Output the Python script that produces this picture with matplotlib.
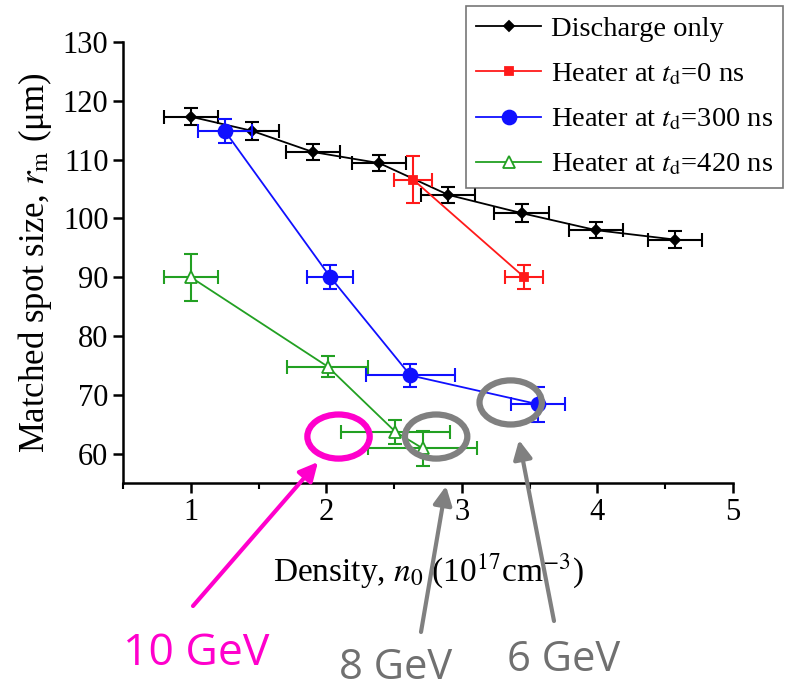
import matplotlib.pyplot as plt
from matplotlib.patches import Ellipse

plt.rcParams['font.family'] = ['Liberation Serif', 'DejaVu Serif']
plt.rcParams['mathtext.fontset'] = 'stix'

# discharge only
x_dis = [1.0, 1.45, 1.9, 2.39, 2.9, 3.44, 3.99, 4.57]
y_dis = [117.3, 114.9, 111.3, 109.4, 104.0, 100.9, 98.0, 96.4]
xe_dis = [0.2, 0.2, 0.2, 0.2, 0.2, 0.2, 0.2, 0.2]
ye_dis = [1.4, 1.5, 1.4, 1.4, 1.4, 1.5, 1.4, 1.5]

# heater at td=0 ns
x_h0 = [2.64, 3.46]
y_h0 = [106.6, 90.0]
xe_h0 = [0.14, 0.14]
ye_h0 = [4.0, 2.0]

# heater at td=300 ns
x_h300 = [1.25, 2.03, 2.62, 3.56]
y_h300 = [114.9, 90.0, 73.3, 68.4]
xe_h300 = [0.2, 0.17, 0.33, 0.2]
ye_h300 = [2.0, 2.0, 1.9, 3.0]

# heater at td=420 ns
x_h420 = [1.0, 2.01, 2.51, 2.71]
y_h420 = [90.0, 74.8, 63.7, 60.9]
xe_h420 = [0.2, 0.3, 0.4, 0.4]
ye_h420 = [4.0, 1.8, 2.0, 3.0]

# annotation circles (x, y) and labels
circ_x = [2.09, 2.81, 3.36]
circ_y = [62.9, 62.9, 68.7]
circ_col = ['#ff00cc', '#808080', '#808080']
gev_labels = ['10 GeV', '8 GeV', '6 GeV']

fig = plt.figure(figsize=(7.88, 6.92), dpi=100)
ax = fig.add_axes([123/788, 1-483/692, (733-123)/788, (483-42)/692])

series = [
    (x_dis, y_dis, xe_dis, ye_dis, 'black', 'D', 5.5, 'black', 'Discharge only'),
    (x_h0, y_h0, xe_h0, ye_h0, '#ff1a1a', 's', 6, '#ff1a1a', 'Heater at $t_\\mathrm{d}$=0 ns'),
    (x_h300, y_h300, xe_h300, ye_h300, '#1010ff', 'o', 10, '#1010ff', 'Heater at $t_\\mathrm{d}$=300 ns'),
    (x_h420, y_h420, xe_h420, ye_h420, '#22a022', '^', 9, 'white', 'Heater at $t_\\mathrm{d}$=420 ns'),
]
for xs, ys, xe, ye, c, m, ms, fc, lab in series:
    ax.errorbar(xs, ys, xerr=xe, yerr=ye, fmt='none', ecolor=c, elinewidth=1.5,
                capsize=5, capthick=1.5)
    ax.plot(xs, ys, '-', color=c, lw=1.3, marker=m, ms=ms, mfc=fc, mec=c,
            mew=1.3, label=lab)

ax.set_xlim(0.5, 5)
ax.set_ylim(55, 130)
ax.set_xticks([1, 2, 3, 4, 5])
ax.set_xticks([0.5, 1.5, 2.5, 3.5, 4.5], minor=True)
ax.set_yticks(range(60, 131, 10))
for s in ['top', 'right']:
    ax.spines[s].set_visible(False)
for s in ['left', 'bottom']:
    ax.spines[s].set_linewidth(1.8)
ax.tick_params(which='major', direction='out', length=7, width=1.8, labelsize=22)
ax.tick_params(which='minor', direction='out', length=4, width=1.5)
ax.set_xlabel('Density, $n_0$ (10$^{17}$cm$^{-3}$)', fontsize=24, labelpad=18)
ax.set_ylabel('Matched spot size, $r_\\mathrm{m}$ (\u03bcm)', fontsize=25, labelpad=6)

leg = ax.legend(loc='upper left', bbox_to_anchor=(466/788, 1-6/692),
                bbox_transform=fig.transFigure, fontsize=20.5, frameon=True,
                fancybox=False, edgecolor='#555555', handlelength=2.3,
                labelspacing=0.68, borderpad=0.35, handletextpad=0.35,
                borderaxespad=0)
leg.get_frame().set_linewidth(1.2)

for cx, cy, cc in zip(circ_x, circ_y, circ_col):
    ax.add_patch(Ellipse((cx, cy), 0.46, 7.5, fill=False, edgecolor=cc,
                         lw=4.5, clip_on=False, zorder=5))


def fpx(px, py):
    return (px / 788, 1 - py / 692)


arrows = [((193, 606), (318, 462), '#ff00cc'),
          ((421, 632), (446, 486), '#808080'),
          ((554, 621), (519, 440), '#808080')]
for tail, head, c in arrows:
    ax.annotate('', xy=fpx(*head), xytext=fpx(*tail), xycoords='figure fraction',
                textcoords='figure fraction', annotation_clip=False,
                arrowprops=dict(arrowstyle='-|>', color=c, lw=3, mutation_scale=28,
                                shrinkA=0, shrinkB=0))

label_pos = [(196, 654), (396, 668), (564, 660)]
label_col = ['#ff00cc', '#707070', '#707070']
label_size = [32, 30, 30]
for (px, py), t, c, fs in zip(label_pos, gev_labels, label_col, label_size):
    fig.text(*fpx(px, py), t, color=c, fontsize=fs, family='Open Sans',
             ha='center', va='center')

fig.savefig('out.png', dpi=100)
